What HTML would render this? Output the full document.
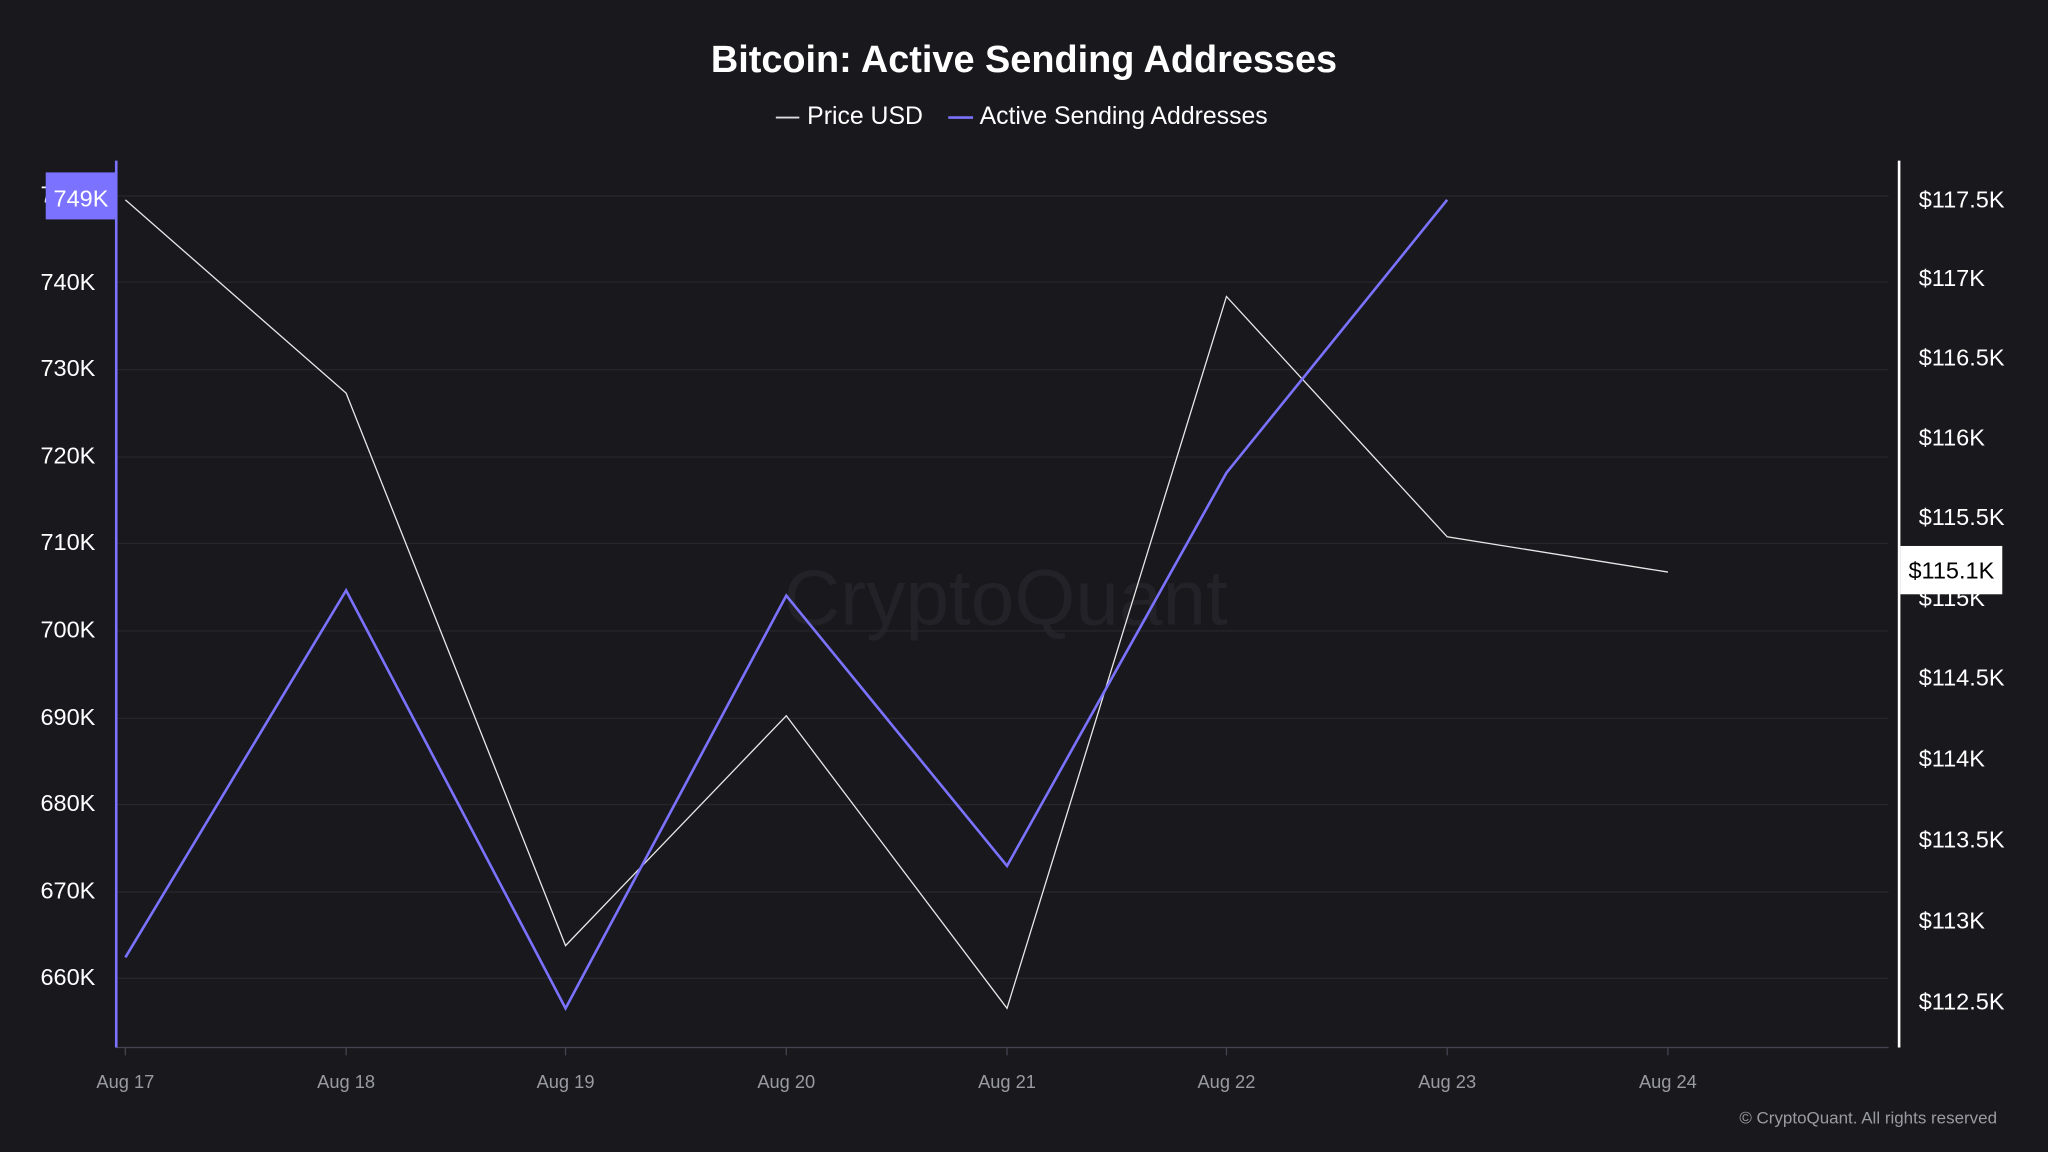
<!DOCTYPE html>
<html><head><meta charset="utf-8"><style>
html,body{margin:0;padding:0;background:#18181d;}
svg{display:block;font-family:"Liberation Sans",sans-serif;}
</style></head><body>
<svg width="2048" height="1152" viewBox="0 0 1568 882" xmlns="http://www.w3.org/2000/svg">
<rect width="1568" height="882" fill="#18181d"/>
<text x="784" y="55" text-anchor="middle" font-size="29" font-weight="bold" fill="#fff">Bitcoin: Active Sending Addresses</text>
<line x1="594" y1="90" x2="612" y2="90" stroke="#ddd" stroke-width="1.5"/>
<text x="618" y="95" font-size="19" fill="#fff">Price USD</text>
<line x1="726" y1="90" x2="745" y2="90" stroke="#7b72ff" stroke-width="2"/>
<text x="750" y="95" font-size="19" fill="#fff">Active Sending Addresses</text>
<text x="770" y="478" text-anchor="middle" font-size="60" fill="#222228">CryptoQuant</text>
<g stroke="#26262c" stroke-width="1">
<line x1="90" y1="150" x2="1446" y2="150"/><line x1="90" y1="216" x2="1446" y2="216"/><line x1="90" y1="283" x2="1446" y2="283"/><line x1="90" y1="350" x2="1446" y2="350"/><line x1="90" y1="416" x2="1446" y2="416"/><line x1="90" y1="483" x2="1446" y2="483"/><line x1="90" y1="550" x2="1446" y2="550"/><line x1="90" y1="616" x2="1446" y2="616"/><line x1="90" y1="683" x2="1446" y2="683"/><line x1="90" y1="749" x2="1446" y2="749"/>
</g>
<line x1="89" y1="802" x2="1446" y2="802" stroke="#444450" stroke-width="1"/>
<g stroke="#444450"><line x1="96" y1="802" x2="96" y2="808"/><line x1="265" y1="802" x2="265" y2="808"/><line x1="433" y1="802" x2="433" y2="808"/><line x1="602" y1="802" x2="602" y2="808"/><line x1="771" y1="802" x2="771" y2="808"/><line x1="939" y1="802" x2="939" y2="808"/><line x1="1108" y1="802" x2="1108" y2="808"/><line x1="1277" y1="802" x2="1277" y2="808"/></g>
<line x1="89" y1="123" x2="89" y2="802" stroke="#7b72ff" stroke-width="2"/>
<line x1="1454" y1="123" x2="1454" y2="802" stroke="#fff" stroke-width="2"/>
<g font-size="18" fill="#fff" text-anchor="end">
<text x="73" y="155">750K</text><text x="73" y="222">740K</text><text x="73" y="288">730K</text><text x="73" y="355">720K</text><text x="73" y="421">710K</text><text x="73" y="488">700K</text><text x="73" y="555">690K</text><text x="73" y="621">680K</text><text x="73" y="688">670K</text><text x="73" y="754">660K</text>
</g>
<g font-size="18" fill="#fff">
<text x="1469" y="159">$117.5K</text><text x="1469" y="219">$117K</text><text x="1469" y="280">$116.5K</text><text x="1469" y="341">$116K</text><text x="1469" y="402">$115.5K</text><text x="1469" y="464">$115K</text><text x="1469" y="525">$114.5K</text><text x="1469" y="587">$114K</text><text x="1469" y="649">$113.5K</text><text x="1469" y="711">$113K</text><text x="1469" y="773">$112.5K</text>
</g>
<g font-size="14" fill="#9a9aa2" text-anchor="middle">
<text x="96" y="833">Aug 17</text><text x="265" y="833">Aug 18</text><text x="433" y="833">Aug 19</text><text x="602" y="833">Aug 20</text><text x="771" y="833">Aug 21</text><text x="939" y="833">Aug 22</text><text x="1108" y="833">Aug 23</text><text x="1277" y="833">Aug 24</text>
</g>
<polyline fill="none" stroke="#e8e8e8" stroke-width="1" points="96,153 265,301 433,724 602,548 771,772 939,227 1108,411 1277,438"/>
<polyline fill="none" stroke="#7b72ff" stroke-width="2" points="96,733 265,452 433,772 602,456 771,663 939,362 1108,153"/>
<rect x="35" y="132" width="54" height="36" fill="#7b72ff"/>
<text x="62" y="158" text-anchor="middle" font-size="18" fill="#fff">749K</text>
<rect x="1455" y="418" width="78" height="37" fill="#fff"/>
<text x="1494" y="443" text-anchor="middle" font-size="18" fill="#000">$115.1K</text>
<text x="1529" y="860" text-anchor="end" font-size="13" fill="#9a9aa2">© CryptoQuant. All rights reserved</text>
</svg>
</body></html>
